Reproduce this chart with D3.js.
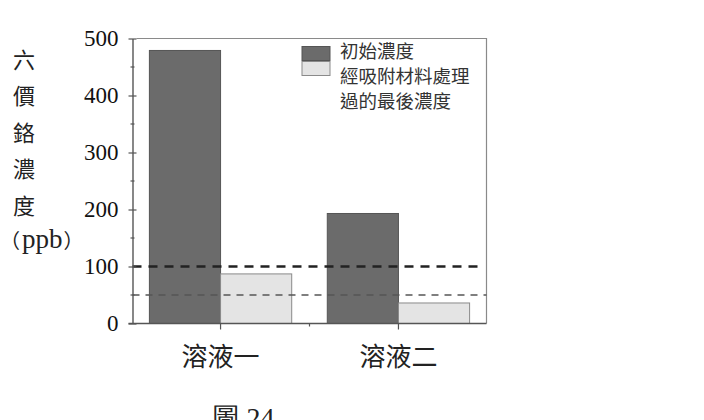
<!DOCTYPE html>
<html><head><meta charset="utf-8">
<script src="https://cdn.jsdelivr.net/npm/d3@7"></script>
<style>body{margin:0;background:#fff}svg{display:block}</style>
</head><body>
<svg id="c" width="704" height="420"></svg>
<script>
const categories = ["溶液一", "溶液二"];
const seriesNames = ["初始濃度", "經吸附材料處理過的最後濃度"];
const initialValues = [479, 193];
const finalValues = [87, 36];
const yTicks = [0, 100, 200, 300, 400, 500];
const yMinorTicks = [50, 150, 250, 350, 450];
const refLines = [100, 50];
const yTitleChars = ["六", "價", "鉻", "濃", "度"];
const yUnitParts = ["（", "ppb", "）"];
const legendLines = ["初始濃度", "經吸附材料處理", "過的最後濃度"];
const caption = "圖 24";

const svg = d3.select("#c");
const L = 132.5, R = 486.5, T = 38.5, B = 323.5;
const y = d3.scaleLinear().domain([0, 500]).range([B, T]);
const x0 = d3.scaleBand().domain(categories).range([L, R]).paddingInner(0.2).paddingOuter(0.095);
const x1 = d3.scaleBand().domain(seriesNames).range([0, x0.bandwidth()]);
const fills = ["#6b6b6b", "#e4e4e4"];
const strokes = ["#555", "#8a8a8a"];
const serif = "'Liberation Serif','Times New Roman',serif";
const cjk = "'Noto Sans CJK TC','Noto Sans CJK SC',sans-serif";

// frame (top & right)
svg.append("path").attr("d", `M${L+4},${T}H${R}V${B}`).attr("fill","none").attr("stroke","#8a8a8a").attr("stroke-width",1.2);

// bars
const data = categories.map((c,i)=>({cat:c, vals:[initialValues[i], finalValues[i]]}));
const g = svg.append("g");
data.forEach(d=>{
  d.vals.forEach((v,j)=>{
    g.append("rect")
      .attr("x", x0(d.cat)+x1(seriesNames[j]))
      .attr("y", y(v))
      .attr("width", x1.bandwidth())
      .attr("height", y(0)-y(v))
      .attr("fill", fills[j]).attr("stroke", strokes[j]).attr("stroke-width",1);
  });
});

// reference dashed lines
svg.append("line").attr("x1",L).attr("x2",R-4).attr("y1",y(refLines[0])).attr("y2",y(refLines[0]))
  .attr("stroke","#222").attr("stroke-width",2.6).attr("stroke-dasharray","9,7");
svg.append("line").attr("x1",L).attr("x2",R).attr("y1",y(refLines[1])).attr("y2",y(refLines[1]))
  .attr("stroke","#555").attr("stroke-width",1.6).attr("stroke-dasharray","7,6");

// y axis
const yAxis = d3.axisLeft(y).tickValues(yTicks).tickSize(0).tickPadding(14).tickFormat(d3.format("d"));
const ya = svg.append("g").attr("transform",`translate(${L},0)`).call(yAxis);
ya.select(".domain").attr("stroke","#555").attr("stroke-width",1.4);
ya.selectAll("text").attr("font-family",serif).attr("font-size",23).attr("fill","#111");
ya.selectAll(".tick").append("line").attr("x1",-4).attr("x2",4).attr("stroke","#555").attr("stroke-width",1.2);
svg.append("g").selectAll("line").data(yMinorTicks).join("line")
  .attr("x1",L-2).attr("x2",L+2).attr("y1",d=>y(d)).attr("y2",d=>y(d)).attr("stroke","#555").attr("stroke-width",1.2);

// x axis
const xa = svg.append("g").attr("transform",`translate(0,${B})`)
  .call(d3.axisBottom(x0).tickSize(0).tickPadding(20));
xa.select(".domain").attr("stroke","#555").attr("stroke-width",1.4).attr("d",`M${L-4},0H${R}`);
xa.selectAll("text").attr("font-family",cjk).attr("font-size",26).attr("fill","#222").attr("dy","0.85em");
xa.selectAll(".tick").append("line").attr("y1",0).attr("y2",6).attr("stroke","#555").attr("stroke-width",1.2);
svg.append("line").attr("x1",(x0(categories[0])+x0(categories[1])+x0.bandwidth())/2)
  .attr("x2",(x0(categories[0])+x0(categories[1])+x0.bandwidth())/2)
  .attr("y1",B).attr("y2",B+3).attr("stroke","#555").attr("stroke-width",1.2);

// y title
svg.append("g").selectAll("text").data(yTitleChars).join("text")
  .attr("x",24).attr("y",(d,i)=>60+i*36.5).attr("dy","0.35em").attr("text-anchor","middle")
  .attr("font-family",cjk).attr("font-size",22).attr("fill","#222").text(d=>d);
const unit = svg.append("text").attr("x",0).attr("y",60+5*36.5).attr("dy","0.35em").attr("fill","#222");
unit.append("tspan").attr("font-family",cjk).attr("font-size",20).text(yUnitParts[0]);
unit.append("tspan").attr("font-family",serif).attr("font-size",27).attr("dx",2).text(yUnitParts[1]);
unit.append("tspan").attr("font-family",cjk).attr("font-size",20).attr("dx",1).text(yUnitParts[2]);

// legend
svg.append("rect").attr("x",302).attr("y",46.5).attr("width",28).attr("height",14)
  .attr("fill",fills[0]).attr("stroke",strokes[0]);
svg.append("rect").attr("x",302).attr("y",61.5).attr("width",28).attr("height",14)
  .attr("fill",fills[1]).attr("stroke",strokes[1]);
svg.append("g").selectAll("text").data(legendLines).join("text")
  .attr("x",340).attr("y",(d,i)=>52+i*25).attr("dy","0.35em")
  .attr("font-family",cjk).attr("font-size",18.5).attr("fill","#333").text(d=>d);

// caption (cut off at the bottom edge, as in the reference)
svg.append("text").attr("x",243).attr("y",427).attr("text-anchor","middle")
  .attr("font-family",serif).attr("font-size",28).attr("fill","#222").text(caption);
</script>
</body></html>
